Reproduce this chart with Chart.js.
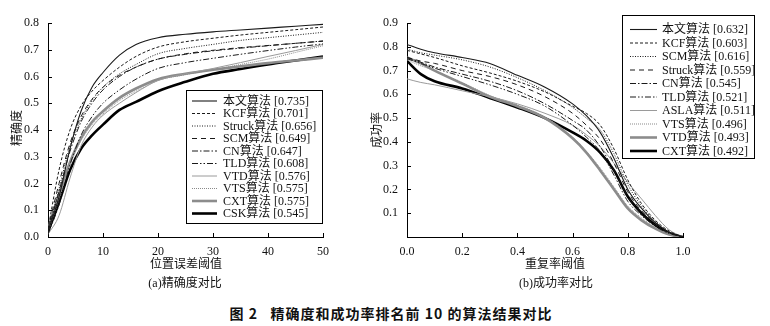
<!DOCTYPE html>
<html>
<head>
<meta charset="utf-8">
<script src="https://cdn.jsdelivr.net/npm/chart.js@4.4.0/dist/chart.umd.min.js"></script>
<style>
  body { margin: 0; background: #fff; width: 770px; height: 326px; position: relative; overflow: hidden; }
  canvas { position: absolute; top: 0; }
  .t { position: absolute; font-family: "Liberation Serif", "Noto Sans CJK SC", serif; font-size: 12px; color: #111; white-space: nowrap; transform: translate(-50%, -50%); }
  .rot { transform: translate(-50%, -50%) rotate(-90deg); }
  .cap { font-family: "Noto Sans CJK SC", sans-serif; font-weight: bold; font-size: 14px; letter-spacing: 1px; }
</style>
</head>
<body>
<canvas id="precisionChart" width="340" height="260" style="left:0px;width:340px;height:260px"></canvas>
<canvas id="successChart" width="410" height="260" style="left:360px;width:410px;height:260px"></canvas>

<div class="t rot" style="left:16px;top:128px">精确度</div>
<div class="t" style="left:186px;top:263px">位置误差阈值</div>
<div class="t" style="left:185px;top:282px">(a)精确度对比</div>
<div class="t rot" style="left:376px;top:130px">成功率</div>
<div class="t" style="left:555px;top:263px">重复率阈值</div>
<div class="t" style="left:556px;top:282px">(b)成功率对比</div>
<div class="t cap" style="left:391px;top:313px">图 2&nbsp;&nbsp;&nbsp;精确度和成功率排名前 10 的算法结果对比</div>

<script>
// (a) precision vs location error threshold
const errThresholds = [0, 2, 4, 6, 8, 10, 13, 16, 20, 25, 30, 35, 40, 45, 50];
const precOurs   = [0.02, 0.15, 0.33, 0.47, 0.56, 0.615, 0.68, 0.72, 0.745, 0.758, 0.767, 0.774, 0.781, 0.788, 0.795];
const precKCF    = [0.03, 0.25, 0.40, 0.49, 0.545, 0.585, 0.635, 0.675, 0.71, 0.73, 0.743, 0.755, 0.765, 0.775, 0.785];
const precStruck = [0.02, 0.18, 0.34, 0.44, 0.51, 0.56, 0.61, 0.645, 0.685, 0.705, 0.72, 0.735, 0.745, 0.755, 0.765];
const precSCM    = [0.03, 0.20, 0.35, 0.45, 0.515, 0.56, 0.605, 0.635, 0.665, 0.685, 0.698, 0.708, 0.716, 0.724, 0.732];
const precCN     = [0.02, 0.17, 0.32, 0.43, 0.50, 0.55, 0.60, 0.635, 0.665, 0.683, 0.696, 0.706, 0.715, 0.724, 0.733];
const precTLD    = [0.01, 0.12, 0.27, 0.38, 0.45, 0.50, 0.55, 0.59, 0.63, 0.652, 0.668, 0.683, 0.697, 0.71, 0.722];
const precVTD    = [0.01, 0.08, 0.22, 0.34, 0.41, 0.455, 0.50, 0.54, 0.585, 0.61, 0.63, 0.652, 0.675, 0.697, 0.72];
const precVTS    = [0.02, 0.14, 0.27, 0.36, 0.42, 0.46, 0.51, 0.545, 0.585, 0.607, 0.625, 0.645, 0.665, 0.69, 0.715];
const precCXT    = [0.03, 0.16, 0.28, 0.37, 0.43, 0.47, 0.52, 0.555, 0.59, 0.61, 0.625, 0.638, 0.65, 0.66, 0.67];
const precCSK    = [0.02, 0.13, 0.25, 0.33, 0.38, 0.42, 0.475, 0.505, 0.545, 0.58, 0.61, 0.628, 0.645, 0.66, 0.675];
const precLabels = ["本文算法 [0.735]", "KCF算法 [0.701]", "Struck算法 [0.656]", "SCM算法 [0.649]", "CN算法 [0.647]",
                    "TLD算法 [0.608]", "VTD算法 [0.576]", "VTS算法 [0.575]", "CXT算法 [0.575]", "CSK算法 [0.545]"];
const precXTicks = [0, 10, 20, 30, 40, 50];
const precYTicks = [0, 0.1, 0.2, 0.3, 0.4, 0.5, 0.6, 0.7, 0.8];

// (b) success rate vs overlap threshold
const overlapThresholds = [0, 0.05, 0.1, 0.2, 0.3, 0.4, 0.5, 0.6, 0.65, 0.7, 0.75, 0.8, 0.85, 0.9, 0.95, 1.0];
const succOurs   = [0.81, 0.79, 0.775, 0.755, 0.73, 0.68, 0.63, 0.56, 0.51, 0.44, 0.33, 0.20, 0.12, 0.06, 0.02, 0];
const succKCF    = [0.785, 0.77, 0.755, 0.72, 0.69, 0.655, 0.61, 0.55, 0.52, 0.47, 0.37, 0.24, 0.14, 0.07, 0.025, 0];
const succSCM    = [0.79, 0.775, 0.765, 0.745, 0.715, 0.67, 0.615, 0.545, 0.50, 0.45, 0.35, 0.22, 0.13, 0.065, 0.02, 0];
const succStruck = [0.755, 0.74, 0.73, 0.70, 0.675, 0.64, 0.59, 0.52, 0.47, 0.41, 0.31, 0.19, 0.11, 0.06, 0.02, 0];
const succCN     = [0.755, 0.735, 0.715, 0.685, 0.655, 0.615, 0.56, 0.49, 0.45, 0.38, 0.28, 0.17, 0.10, 0.05, 0.02, 0];
const succTLD    = [0.75, 0.73, 0.71, 0.675, 0.64, 0.60, 0.55, 0.47, 0.42, 0.36, 0.26, 0.15, 0.09, 0.045, 0.015, 0];
const succASLA   = [0.665, 0.65, 0.64, 0.615, 0.59, 0.56, 0.52, 0.47, 0.43, 0.38, 0.31, 0.23, 0.16, 0.09, 0.03, 0];
const succVTS    = [0.745, 0.72, 0.70, 0.65, 0.595, 0.555, 0.505, 0.42, 0.36, 0.29, 0.21, 0.13, 0.08, 0.04, 0.015, 0];
const succVTD    = [0.755, 0.73, 0.70, 0.645, 0.59, 0.55, 0.50, 0.415, 0.355, 0.28, 0.20, 0.12, 0.07, 0.035, 0.01, 0];
const succCXT    = [0.74, 0.685, 0.655, 0.625, 0.585, 0.545, 0.50, 0.44, 0.405, 0.355, 0.28, 0.17, 0.10, 0.05, 0.015, 0];
const succLabels = ["本文算法 [0.632]", "KCF算法 [0.603]", "SCM算法 [0.616]", "Struck算法 [0.559]", "CN算法 [0.545]",
                    "TLD算法 [0.521]", "ASLA算法 [0.511]", "VTS算法 [0.496]", "VTD算法 [0.493]", "CXT算法 [0.492]"];
const succXTicks = [0, 0.2, 0.4, 0.6, 0.8, 1.0];
const succYTicks = [0, 0.1, 0.2, 0.3, 0.4, 0.5, 0.6, 0.7, 0.8, 0.9];

const FONT = '"Liberation Serif", "Noto Sans CJK SC", serif';

// line looks, one per legend row
const looks = {
  solidThin:  { borderColor: '#1a1a1a', borderWidth: 1.1, borderDash: [] },
  shortDash:  { borderColor: '#1a1a1a', borderWidth: 1, borderDash: [3, 2] },
  dotted:     { borderColor: '#1a1a1a', borderWidth: 1, borderDash: [1, 1.5] },
  longDash:   { borderColor: '#1a1a1a', borderWidth: 1, borderDash: [5, 4] },
  dashDot:    { borderColor: '#1a1a1a', borderWidth: 1, borderDash: [6, 2, 1.5, 2] },
  dashDotDot: { borderColor: '#1a1a1a', borderWidth: 1, borderDash: [6, 2, 1.5, 2, 1.5, 2] },
  grayThin:   { borderColor: '#9a9a9a', borderWidth: 1, borderDash: [] },
  grayDotted: { borderColor: '#8a8a8a', borderWidth: 1, borderDash: [1, 1] },
  grayThick:  { borderColor: '#8c8c8c', borderWidth: 2.6, borderDash: [] },
  blackThick: { borderColor: '#000000', borderWidth: 2.6, borderDash: [] }
};

function makeSet(label, xs, ys, look) {
  return Object.assign({
    label: label,
    data: xs.map((x, i) => ({ x: x, y: ys[i] })),
    pointRadius: 0,
    fill: false,
    cubicInterpolationMode: 'monotone'
  }, look);
}

// inward tick marks + boxed legend inside the plot
const paperPlugin = {
  id: 'paper',
  afterDraw(chart, args, opts) {
    const ctx = chart.ctx;
    const xs = chart.scales.x, ys = chart.scales.y;
    const a = chart.chartArea;
    ctx.save();
    ctx.strokeStyle = '#000';
    ctx.lineWidth = 1;
    ctx.beginPath();
    xs.ticks.forEach(t => {
      if (t.value === xs.min) return;
      const px = Math.round(xs.getPixelForValue(t.value)) + 0.5;
      ctx.moveTo(px, a.bottom); ctx.lineTo(px, a.bottom - 4);
    });
    ys.ticks.forEach(t => {
      if (t.value === ys.min) return;
      const py = Math.round(ys.getPixelForValue(t.value)) + 0.5;
      ctx.moveTo(a.left, py); ctx.lineTo(a.left + 4, py);
    });
    ctx.stroke();

    const L = opts.box;
    ctx.fillStyle = '#fff';
    ctx.fillRect(L.x, L.y, L.w, L.h);
    ctx.strokeRect(L.x + 0.5, L.y + 0.5, L.w, L.h);
    ctx.font = '12px ' + FONT;
    ctx.textBaseline = 'middle';
    chart.data.datasets.forEach((ds, i) => {
      const y = L.row0 + i * L.step;
      ctx.beginPath();
      ctx.strokeStyle = ds.borderColor;
      ctx.lineWidth = ds.borderWidth;
      ctx.setLineDash(ds.borderDash || []);
      ctx.moveTo(L.lineX, y); ctx.lineTo(L.lineX + L.lineLen, y);
      ctx.stroke();
      ctx.setLineDash([]);
      ctx.fillStyle = '#111';
      ctx.fillText(ds.label, L.textX, y + 0.5);
    });
    ctx.restore();
  }
};

function fixSize(prop, size) {
  return function (scale) {
    scale[prop] = size;
    scale.paddingTop = 0; scale.paddingBottom = 0;
    scale.paddingLeft = 0; scale.paddingRight = 0;
  };
}

function makeOptions(xMax, xTicks, yMax, yTicks, xFmt, yFmt, yWidth, xHeight, pad, box) {
  return {
    responsive: false,
    animation: false,
    layout: { padding: pad },
    plugins: { legend: { display: false }, tooltip: { enabled: false }, paper: { box: box } },
    scales: {
      x: {
        type: 'linear', min: 0, max: xMax,
        afterBuildTicks: s => { s.ticks = xTicks.map(v => ({ value: v })); },
        afterFit: fixSize('height', xHeight),
        grid: { drawOnChartArea: false, drawTicks: false },
        border: { color: '#000', width: 1 },
        ticks: { padding: 8, color: '#111', font: { family: FONT, size: 12 }, maxRotation: 0, callback: xFmt }
      },
      y: {
        min: 0, max: yMax,
        afterBuildTicks: s => { s.ticks = yTicks.map(v => ({ value: v })); },
        afterFit: fixSize('width', yWidth),
        grid: { drawOnChartArea: false, drawTicks: false },
        border: { color: '#000', width: 1 },
        ticks: { padding: 9, color: '#111', font: { family: FONT, size: 12 }, callback: yFmt }
      }
    }
  };
}

const precSets = [
  makeSet(precLabels[0], errThresholds, precOurs, looks.solidThin),
  makeSet(precLabels[1], errThresholds, precKCF, looks.shortDash),
  makeSet(precLabels[2], errThresholds, precStruck, looks.dotted),
  makeSet(precLabels[3], errThresholds, precSCM, looks.longDash),
  makeSet(precLabels[4], errThresholds, precCN, looks.dashDot),
  makeSet(precLabels[5], errThresholds, precTLD, looks.dashDotDot),
  makeSet(precLabels[6], errThresholds, precVTD, looks.grayThin),
  makeSet(precLabels[7], errThresholds, precVTS, looks.grayDotted),
  makeSet(precLabels[8], errThresholds, precCXT, looks.grayThick),
  makeSet(precLabels[9], errThresholds, precCSK, looks.blackThick)
];

const succSets = [
  makeSet(succLabels[0], overlapThresholds, succOurs, looks.solidThin),
  makeSet(succLabels[1], overlapThresholds, succKCF, looks.shortDash),
  makeSet(succLabels[2], overlapThresholds, succSCM, looks.dotted),
  makeSet(succLabels[3], overlapThresholds, succStruck, looks.longDash),
  makeSet(succLabels[4], overlapThresholds, succCN, looks.dashDot),
  makeSet(succLabels[5], overlapThresholds, succTLD, looks.dashDotDot),
  makeSet(succLabels[6], overlapThresholds, succASLA, looks.grayThin),
  makeSet(succLabels[7], overlapThresholds, succVTS, looks.grayDotted),
  makeSet(succLabels[8], overlapThresholds, succVTD, looks.grayThick),
  makeSet(succLabels[9], overlapThresholds, succCXT, looks.blackThick)
];

new Chart(document.getElementById("precisionChart"), {
  type: 'line',
  data: { datasets: precSets },
  options: makeOptions(50, precXTicks, 0.8, precYTicks,
    v => String(v), v => v.toFixed(1), 48, 23,
    { top: 23, right: 17, bottom: 0, left: 0 },
    { x: 186, y: 90, w: 136, h: 133, lineX: 192, lineLen: 25, textX: 223, row0: 101, step: 12.5 }),
  plugins: [paperPlugin]
});

new Chart(document.getElementById("successChart"), {
  type: 'line',
  data: { datasets: succSets },
  options: makeOptions(1, succXTicks, 0.9, succYTicks,
    v => v.toFixed(1), v => (v === 0 ? '' : v.toFixed(1)), 47, 23,
    { top: 23, right: 87, bottom: 0, left: 0 },
    { x: 262, y: 15, w: 132, h: 143, lineX: 270, lineLen: 27, textX: 302, row0: 29.5, step: 13.5 }),
  plugins: [paperPlugin]
});
</script>
</body>
</html>
